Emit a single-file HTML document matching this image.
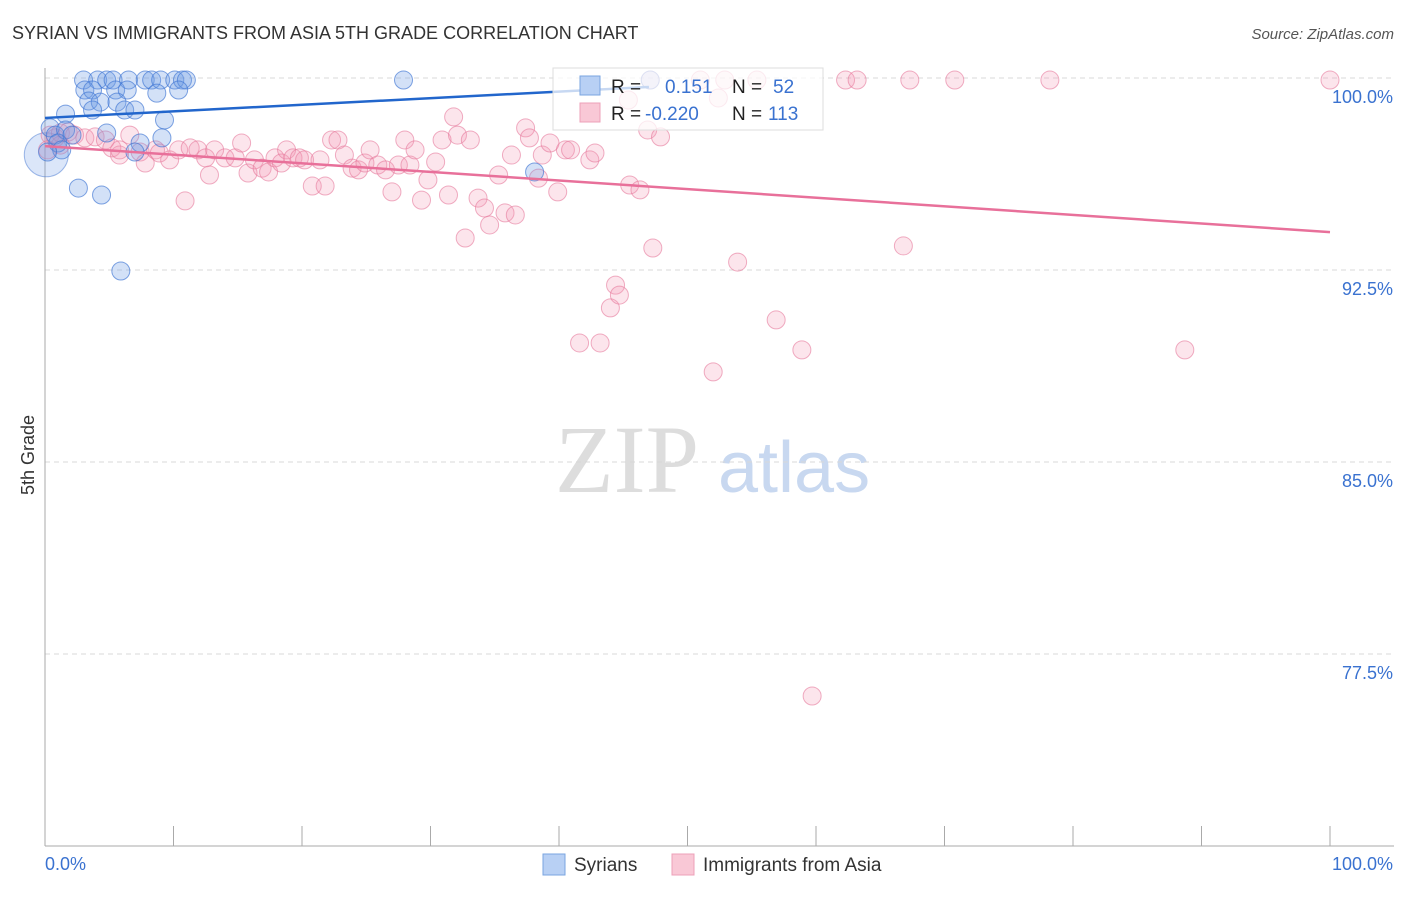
<!DOCTYPE html>
<html><head><meta charset="utf-8"><style>
body{margin:0;background:#fff;font-family:"Liberation Sans",sans-serif}
#wrap{position:relative;width:1406px;height:892px}
</style></head><body>
<div id="wrap">
<svg id="svg" width="1406" height="892" xmlns="http://www.w3.org/2000/svg">
<text x="12" y="39" font-size="18" fill="#333">SYRIAN VS IMMIGRANTS FROM ASIA 5TH GRADE CORRELATION CHART</text>
<text x="1394" y="39" font-size="15" fill="#555" font-style="italic" text-anchor="end">Source: ZipAtlas.com</text>
<text x="34" y="455" font-size="18" fill="#333" transform="rotate(-90 34 455)" text-anchor="middle">5th Grade</text>
<text x="555" y="492" font-size="96" fill="#ddd" font-family="Liberation Serif,serif">ZIP</text>
<text x="718" y="492" font-size="72" fill="#c8d8f0">atlas</text>
<g id="grid"></g><g id="axes"></g><g id="pts"></g><g id="lines"></g>
<g>
<rect x="553" y="68" width="270" height="62" fill="rgba(255,255,255,0.75)" stroke="#ddd"/>
<rect x="580" y="76" width="20" height="19" fill="#b8d0f4" stroke="#7aa5e0"/>
<rect x="580" y="103" width="20" height="19" fill="#f9c8d6" stroke="#eda0b8"/>
<text x="611" y="93" font-size="19" fill="#222">R = </text><text x="665" y="93" font-size="19" fill="#3a72d0">0.151</text>
<text x="732" y="93" font-size="19" fill="#222">N = </text><text x="773" y="93" font-size="19" fill="#3a72d0">52</text>
<text x="611" y="120" font-size="19" fill="#222">R = </text><text x="645" y="120" font-size="19" fill="#3a72d0">-0.220</text>
<text x="732" y="120" font-size="19" fill="#222">N = </text><text x="768" y="120" font-size="19" fill="#3a72d0">113</text>
</g>
<g>
<rect x="543" y="854" width="22" height="21" fill="#b8d0f4" stroke="#7aa5e0"/>
<text x="574" y="871" font-size="19" fill="#333">Syrians</text>
<rect x="672" y="854" width="22" height="21" fill="#f9c8d6" stroke="#eda0b8"/>
<text x="703" y="871" font-size="19" fill="#333">Immigrants from Asia</text>
</g>
</svg>
</div>
<script>
const blueX=[3.0,4.1,4.8,5.3,6.5,7.8,8.3,9.0,10.1,10.7,11.0,27.9,47.1,3.1,3.7,5.5,6.4,8.7,10.4,3.4,4.3,5.6,3.7,6.2,7.0,1.6,9.3,0.4,0.8,1.6,2.1,4.8,7.4,9.1,1.0,1.3,7.0,2.6,4.4,5.9,38.1,0.2];
const blueY=[99.92,99.92,99.92,99.92,99.92,99.92,99.92,99.92,99.92,99.92,99.92,99.92,99.92,99.53,99.53,99.53,99.53,99.41,99.53,99.10,99.06,99.06,98.75,98.75,98.75,98.59,98.36,98.05,97.77,97.97,97.77,97.85,97.46,97.66,97.46,97.19,97.11,95.70,95.43,92.46,96.33,97.11];
const pinkX=[47.1,51.0,52.9,55.4,62.3,63.2,67.3,70.8,78.2,100.0,52.4,45.4,0.4,0.8,1.2,1.8,2.3,3.1,3.9,4.7,5.2,5.8,6.6,7.4,7.8,8.6,8.9,9.7,10.4,10.9,11.3,11.9,12.5,12.8,13.2,14.0,14.8,15.3,15.8,16.3,16.9,17.4,17.9,18.4,18.8,19.3,19.8,20.2,20.8,21.4,21.8,22.3,22.8,23.3,23.9,24.4,24.9,25.3,25.9,26.5,27.0,27.5,28.0,28.4,28.8,29.3,29.8,30.4,30.9,31.4,31.8,32.1,32.7,33.1,33.7,34.2,34.6,35.3,35.8,36.6,36.3,37.4,37.7,38.7,39.3,39.9,40.5,40.9,41.6,42.4,42.8,43.2,44.0,44.4,44.7,45.5,46.3,46.9,47.3,47.9,52.0,53.9,56.9,58.9,59.7,66.8,88.7,38.4,0.2,1.2,5.8];
const pinkY=[99.92,99.92,99.92,99.92,99.92,99.92,99.92,99.92,99.92,99.92,99.22,99.14,97.77,97.66,97.85,97.89,97.77,97.66,97.70,97.58,97.27,96.99,97.77,97.11,96.68,97.19,97.07,96.80,97.19,95.20,97.27,97.19,96.88,96.21,97.19,96.88,96.88,97.46,96.29,96.80,96.48,96.33,96.88,96.68,97.19,96.88,96.88,96.80,95.78,96.80,95.78,97.58,97.58,96.99,96.48,96.41,96.68,97.19,96.60,96.41,95.55,96.60,97.58,96.60,97.19,95.23,96.02,96.72,97.58,95.43,98.48,97.77,93.75,97.58,95.31,94.92,94.26,96.21,94.73,94.65,96.99,98.05,97.66,96.99,97.46,95.55,97.19,97.19,89.65,96.80,97.07,89.65,91.02,91.91,91.52,95.82,95.63,97.97,93.36,97.70,88.52,92.81,90.55,89.38,75.86,93.44,89.38,96.09,97.19,97.38,97.19];
const blueTrendX=[0,47];const blueTrendY=[98.44,99.65];
const pinkTrendX=[0,100];const pinkTrendY=[97.34,93.98];
const yTicks=[100,92.5,85,77.5];
const yTickLabels=["100.0%","92.5%","85.0%","77.5%"];
const xTicks=[0,10,20,30,40,50,60,70,80,90,100];

const NS="http://www.w3.org/2000/svg";
const X0=45,X1=1330,YT=78,YB=846,YMIN=70,YMAX=100;
const sx=v=>X0+(v/100)*(X1-X0);
const sy=v=>YB-(v-YMIN)/(YMAX-YMIN)*(YB-YT);
function mk(t,a,p){const e=document.createElementNS(NS,t);for(const k in a)e.setAttribute(k,a[k]);p.appendChild(e);return e;}
const grid=document.getElementById('grid'),axes=document.getElementById('axes'),pts=document.getElementById('pts'),lines=document.getElementById('lines');
yTicks.forEach((t,i)=>{
 const l=mk('line',{x1:X0,x2:1394,y1:sy(t),y2:sy(t),stroke:'#d8d8d8','stroke-dasharray':'5,4'},grid);
 
 
 const tx=mk('text',{x:1393,y:sy(t)+25,'font-size':18,fill:'#3a72d0','text-anchor':'end'},grid);
 tx.textContent=yTickLabels[i];
 
 
});
const ax=mk('line',{x1:X0,x2:X0,y1:68,y2:YB,stroke:'#aaa'},axes);


const bx=mk('line',{x1:X0,x2:1394,y1:YB,y2:YB,stroke:'#aaa'},axes);


xTicks.forEach(t=>{
 const l=mk('line',{x1:sx(t),x2:sx(t),y1:826,y2:YB,stroke:'#aaa'},axes);
 
 
});
const xl=mk('text',{x:45,y:870,'font-size':18,fill:'#3a72d0'},axes);xl.textContent='0.0%';


const xr=mk('text',{x:1393,y:870,'font-size':18,fill:'#3a72d0','text-anchor':'end'},axes);xr.textContent='100.0%';


const big=mk('circle',{cx:sx(0.1),cy:sy(97.0),r:22,fill:'rgba(110,155,230,0.25)',stroke:'rgba(70,120,210,0.5)'},pts);


pinkX.forEach((x,i)=>{
 const c=mk('circle',{cx:sx(x),cy:sy(pinkY[i]),r:9,fill:'rgba(244,150,180,0.25)',stroke:'rgba(230,120,155,0.6)'},pts);
 
 
});
blueX.forEach((x,i)=>{
 const c=mk('circle',{cx:sx(x),cy:sy(blueY[i]),r:9,fill:'rgba(110,155,230,0.3)',stroke:'rgba(60,115,210,0.65)'},pts);
 
 
});
const bl=mk('line',{x1:sx(blueTrendX[0]),y1:sy(blueTrendY[0]),x2:sx(blueTrendX[1]),y2:sy(blueTrendY[1]),stroke:'#2266cc','stroke-width':2.5},lines);


const pl=mk('line',{x1:sx(pinkTrendX[0]),y1:sy(pinkTrendY[0]),x2:sx(pinkTrendX[1]),y2:sy(pinkTrendY[1]),stroke:'#e8709a','stroke-width':2.5},lines);


</script>
</body></html>
